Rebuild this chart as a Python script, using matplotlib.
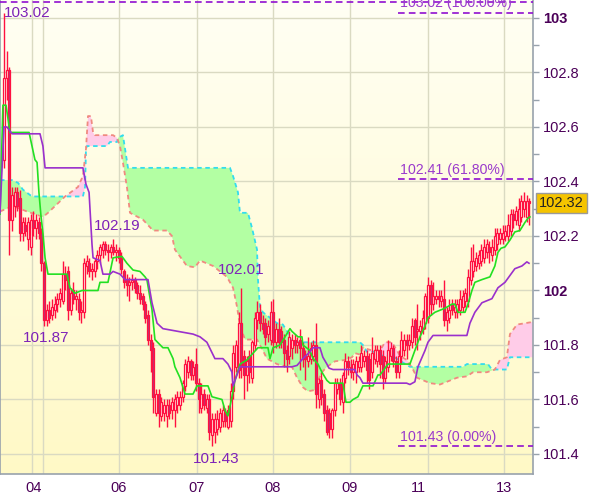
import numpy as np
import matplotlib
matplotlib.use("Agg")
import matplotlib.pyplot as plt
from matplotlib.colors import LinearSegmentedColormap
from matplotlib.transforms import blended_transform_factory

plt.rcParams['font.family'] = ['Liberation Sans', 'DejaVu Sans']

# ---------------- data ----------------
opens = [102.48,102.78,102.81,102.26,102.31,102.36,102.34,102.21,102.24,102.19,
         102.16,102.26,102.23,102.25,102.21,102.10,101.89,101.93,101.91,101.93,
         101.95,101.97,101.96,102.06,102.07,101.93,102.00,101.97,101.97,101.92,
         101.92,102.09,102.10,102.07,102.07,102.11,102.13,102.15,102.17,102.15,
         102.14,102.16,102.14,102.15,102.12,102.07,102.04,102.02,102.03,102.04,
         102.02,101.99,101.98,101.95,101.91,101.82,101.79,101.55,101.62,101.54,
         101.55,101.54,101.58,101.56,101.56,101.58,101.58,101.61,101.65,101.70,
         101.74,101.69,101.73,101.66,101.57,101.62,101.57,101.60,101.47,101.48,
         101.49,101.50,101.52,101.55,101.50,101.52,101.63,101.72,101.71,101.88,
         101.76,101.69,101.76,101.68,101.80,101.89,101.92,101.88,101.88,101.84,
         101.82,101.92,101.81,101.86,101.85,101.82,101.78,101.76,101.79,101.82,
         101.80,101.82,101.79,101.76,101.74,101.75,101.76,101.80,101.60,101.67,
         101.62,101.56,101.55,101.49,101.56,101.64,101.66,101.59,101.68,101.74,
         101.72,101.70,101.70,101.72,101.72,101.74,101.76,101.75,101.70,101.75,
         101.74,101.78,101.76,101.68,101.72,101.76,101.79,101.74,101.70,101.76,
         101.78,101.82,101.80,101.81,101.89,101.85,101.85,101.86,101.88,101.90,
         102.02,101.95,101.97,101.98,101.96,101.97,101.89,101.90,101.95,101.92,
         101.92,101.93,101.94,101.96,101.96,102.04,102.07,102.09,102.10,102.11,
         102.12,102.14,102.16,102.13,102.15,102.17,102.19,102.19,102.20,102.20,
         102.22,102.28,102.26,102.24,102.27,102.30,102.27,102.33]
highs = [103.02,102.88,102.82,102.38,102.38,102.38,102.37,102.27,102.27,102.27,
         102.28,102.29,102.28,102.27,102.23,102.11,101.95,101.96,101.97,101.98,
         101.99,102.01,102.11,102.09,102.09,102.01,102.03,102.00,101.99,101.96,
         102.12,102.13,102.12,102.10,102.12,102.15,102.17,102.18,102.18,102.17,
         102.17,102.19,102.17,102.16,102.14,102.08,102.06,102.05,102.06,102.05,
         102.03,102.02,101.99,101.96,101.93,101.84,101.81,101.64,101.64,101.61,
         101.60,101.60,101.60,101.61,101.62,101.63,101.63,101.67,101.75,101.76,
         101.75,101.74,101.79,101.68,101.66,101.64,101.62,101.62,101.55,101.55,
         101.56,101.57,101.58,101.57,101.58,101.66,101.80,101.82,101.92,102.01,
         101.78,101.76,101.78,101.82,101.92,101.96,101.95,101.91,101.90,101.89,
         101.96,101.97,101.88,101.90,101.87,101.84,101.80,101.85,101.84,101.84,
         101.83,101.86,101.81,101.78,101.83,101.81,101.82,101.88,101.68,101.70,
         101.64,101.58,101.57,101.57,101.68,101.68,101.68,101.70,101.77,101.76,
         101.75,101.75,101.76,101.76,101.80,101.78,101.78,101.77,101.83,101.80,
         101.80,101.80,101.78,101.76,101.82,101.81,101.80,101.76,101.78,101.85,
         101.84,101.84,101.84,101.90,101.90,101.95,101.89,101.93,101.99,102.05,
         102.04,102.03,102.00,102.00,102.00,102.04,101.94,101.97,101.97,101.97,
         101.97,102.00,102.00,102.01,102.08,102.16,102.17,102.14,102.15,102.17,
         102.19,102.19,102.18,102.19,102.23,102.23,102.23,102.24,102.24,102.28,
         102.30,102.30,102.31,102.34,102.35,102.36,102.35,102.34]
lows = [102.45,102.70,102.13,102.22,102.27,102.29,102.18,102.18,102.20,102.15,
        102.13,102.20,102.19,102.19,102.07,101.87,101.87,101.88,101.89,101.90,
        101.92,101.94,101.95,102.00,101.89,101.91,101.95,101.93,101.89,101.88,
        101.90,102.06,102.05,102.04,102.05,102.08,102.10,102.12,102.13,102.11,
        102.12,102.13,102.11,102.10,102.06,102.01,101.98,101.96,102.00,101.99,
        101.97,101.95,101.93,101.88,101.80,101.70,101.55,101.54,101.50,101.52,
        101.52,101.50,101.53,101.53,101.50,101.55,101.56,101.59,101.63,101.68,
        101.67,101.67,101.63,101.55,101.55,101.56,101.55,101.45,101.43,101.44,
        101.47,101.48,101.50,101.50,101.49,101.50,101.60,101.70,101.68,101.68,
        101.60,101.63,101.66,101.66,101.78,101.86,101.85,101.84,101.80,101.81,
        101.80,101.77,101.79,101.79,101.79,101.72,101.70,101.73,101.75,101.77,
        101.77,101.71,101.72,101.67,101.72,101.73,101.74,101.57,101.57,101.58,
        101.52,101.47,101.46,101.46,101.54,101.62,101.58,101.55,101.66,101.69,
        101.68,101.67,101.66,101.70,101.70,101.72,101.66,101.64,101.68,101.73,
        101.72,101.68,101.64,101.66,101.70,101.74,101.72,101.68,101.68,101.73,
        101.76,101.75,101.78,101.79,101.80,101.78,101.82,101.84,101.86,101.88,
        101.91,101.93,101.95,101.94,101.94,101.87,101.85,101.88,101.91,101.90,
        101.90,101.91,101.92,101.94,101.94,102.02,102.05,102.07,102.08,102.09,
        102.10,102.12,102.10,102.11,102.13,102.15,102.17,102.17,102.18,102.18,
        102.20,102.23,102.24,102.22,102.25,102.27,102.25,102.24]
closes = [102.78,102.81,102.26,102.35,102.36,102.31,102.21,102.25,102.22,102.25,
          102.26,102.23,102.26,102.21,102.10,101.89,101.93,101.90,101.94,101.95,
          101.97,101.99,102.06,102.04,101.93,101.99,101.97,101.98,101.92,101.93,
          102.10,102.11,102.07,102.08,102.11,102.13,102.16,102.17,102.15,102.14,
          102.16,102.14,102.15,102.12,102.08,102.03,102.02,102.03,102.04,102.01,
          101.99,101.97,101.95,101.90,101.82,101.78,101.61,101.62,101.55,101.59,
          101.58,101.58,101.55,101.59,101.60,101.61,101.61,101.66,101.73,101.74,
          101.69,101.72,101.66,101.60,101.62,101.58,101.60,101.48,101.53,101.53,
          101.53,101.55,101.56,101.52,101.56,101.63,101.77,101.80,101.88,101.72,
          101.69,101.74,101.70,101.81,101.90,101.92,101.88,101.86,101.83,101.87,
          101.92,101.81,101.86,101.81,101.81,101.77,101.75,101.83,101.82,101.80,
          101.81,101.79,101.75,101.75,101.76,101.79,101.80,101.62,101.66,101.61,
          101.55,101.48,101.49,101.56,101.66,101.66,101.60,101.69,101.74,101.72,
          101.70,101.73,101.74,101.74,101.77,101.76,101.71,101.67,101.77,101.78,
          101.78,101.73,101.68,101.74,101.78,101.79,101.74,101.70,101.76,101.82,
          101.82,101.80,101.82,101.87,101.83,101.86,101.87,101.90,101.98,102.02,
          101.95,101.98,101.98,101.97,101.98,101.89,101.92,101.93,101.93,101.94,
          101.95,101.97,101.98,101.99,102.05,102.11,102.11,102.12,102.13,102.15,
          102.16,102.17,102.14,102.16,102.20,102.21,102.21,102.21,102.22,102.24,
          102.28,102.26,102.29,102.30,102.33,102.33,102.33,102.32]

# Ichimoku lines: (bar position, price) vertices
tenkan_x = [-1.5,-0.4,0.75,2.25,9.4,10.5,11.6,12.4,13.1,13.9,14.6,15.4,16.5,23.6,24.75,26.6,29.25,
            35.25,36,39,40.9,44.25,46.1,48.4,51,52.9,53.6,55.5,56.6,59.6,61.5,63.4,64.1,66,67.9,
            70.9,72.4,76.5,78,81.75,82.9,84,85.5,86.6,88.5,91.1,93.4,95.25,99,99.75,100.9,103.5,
            105.4,107.25,108,110.25,111.75,112.1,114.75,115.9,117.75,119.25,121.1,122.25,127.1,
            128.25,129.75,130.9,132.75,134.6,138.4,140.25,141,142.9,144,152.25,154.1,156,157.9,
            159,161.6,165.4,168,169.1,170.25,172.9,174,175.5,176.6,179.25,182.25,184.1,185.25,
            186.4,187.9,189.75,191.6,193.5,195.4,196.5,197.25]
tenkan_y = [102.28,102.68,102.68,102.58,102.58,102.53,102.48,102.47,102.36,102.27,102.21,102.12,
            102.06,102.06,102.01,101.99,102.0,102.0,102.03,102.03,102.12,102.125,102.10,102.075,
            102.07,102.05,102.04,101.93,101.82,101.79,101.79,101.75,101.72,101.68,101.62,101.62,
            101.65,101.65,101.61,101.60,101.56,101.54,101.61,101.67,101.73,101.745,101.77,101.79,
            101.79,101.75,101.79,101.80,101.83,101.86,101.85,101.83,101.83,101.80,101.78,101.75,
            101.73,101.70,101.67,101.66,101.66,101.59,101.59,101.60,101.61,101.65,101.65,101.69,
            101.69,101.715,101.73,101.73,101.78,101.83,101.87,101.90,101.92,101.935,101.95,101.95,
            101.92,101.92,101.95,102.0,102.03,102.04,102.05,102.09,102.14,102.155,102.16,102.185,
            102.215,102.22,102.25,102.265,102.27]
kijun_x = [-1.5,0,1.1,3,13.5,14.6,15.4,29.6,30.75,31.9,33,33.4,36,37.1,39.75,40.9,43.5,45.4,54,
           55.5,57.4,59.6,70.9,73.5,76.1,79.1,82.1,84,85.5,85.9,88.5,108,109.9,112.1,114.75,115.9,
           118.5,119.6,121.1,121.9,123.4,131.6,132.4,133.5,134.6,151,152.25,154.1,155.25,157.9,
           159,160.9,173.6,174.75,176.6,179.25,183,185.25,187.9,189.75,191.6,194.25,196.1,196.9]
kijun_y = [102.285,102.60,102.60,102.575,102.575,102.53,102.45,102.45,102.39,102.36,102.17,102.12,
           102.11,102.06,102.06,102.07,102.06,102.04,102.04,101.955,101.88,101.86,101.84,101.83,
           101.81,101.75,101.75,101.73,101.70,101.65,101.72,101.72,101.725,101.75,101.775,101.79,
           101.79,101.755,101.73,101.715,101.71,101.71,101.69,101.68,101.66,101.66,101.655,101.665,
           101.72,101.78,101.81,101.835,101.835,101.88,101.92,101.955,101.97,102.01,102.03,102.055,
           102.08,102.09,102.105,102.10]
spanA_x = [-1.5,3,5.25,7.1,10.5,29.6,30.4,30.75,31.1,38.6,39.75,42.4,42.75,44.6,46.5,84.75,85.9,
           87.75,88.5,91.5,93,94.9,95.25,96,97.1,102.4,104.6,106.5,108,133.5,134.6,136.1,139.1,
           142.1,145.5,152.25,172.1,173.6,181.5,183,188.6,189.75,198.5]
spanA_y = [102.405,102.405,102.395,102.37,102.345,102.345,102.38,102.52,102.53,102.53,102.545,
           102.545,102.56,102.57,102.45,102.45,102.42,102.36,102.285,102.285,102.23,102.15,102.04,
           101.94,101.92,101.88,101.875,101.845,101.81,101.81,101.80,101.775,101.775,101.76,101.76,
           101.72,101.72,101.73,101.73,101.71,101.71,101.755,101.755]
spanB_x = [-1.5,3.4,8.6,14.6,16.5,22.9,27.75,29.6,30.75,31.5,32.6,33.4,34.1,40.9,42.4,43.5,44.6,
           46.1,47.25,52.1,55.9,61.1,63,64.1,68.6,71.6,73.5,78.4,83.6,85.9,87.4,88.5,90.4,94.9,
           97.1,98.6,102.4,106.1,108,109.9,112.1,114,116.6,117.75,119.25,121.1,124.1,127.9,130.5,
           131.6,133.5,134.6,138,141,142.9,145.5,147.4,148.5,151.1,153.4,154.9,159.75,163.5,166.1,
           169.9,173.6,175.9,181.1,184.1,186,188.6,189.75,192.4,198.5]
spanB_y = [102.29,102.31,102.29,102.27,102.285,102.345,102.38,102.42,102.52,102.64,102.64,102.58,
           102.57,102.57,102.56,102.53,102.47,102.38,102.285,102.26,102.22,102.22,102.20,102.15,
           102.09,102.085,102.11,102.09,102.05,102.01,101.94,101.87,101.82,101.82,101.78,101.75,
           101.73,101.72,101.72,101.68,101.645,101.63,101.635,101.67,101.70,101.72,101.74,101.745,
           101.755,101.77,101.765,101.79,101.78,101.78,101.81,101.81,101.78,101.76,101.745,101.71,
           101.68,101.66,101.655,101.665,101.68,101.685,101.70,101.70,101.71,101.745,101.755,101.84,
           101.875,101.885]

xtick_pos = [10.9, 43.1, 72.4, 100.9, 129.7, 155.25, 187.5]
xtick_labels = ['04', '06', '07', '08', '09', '11', '13']
vgrid_pos = [10.5, 14.6, 43.1, 72.4, 100.9, 129.7, 159, 187.5]

fib_levels = [103.02, 102.41, 101.43]
fib_labels = ['103.02 (100.00%)', '102.41 (61.80%)', '101.43 (0.00%)']
top_line = 103.059

point_labels = ['103.02', '102.19', '101.87', '102.01', '101.43']
point_x = [0.0, 33.75, 7.1, 80.25, 70.9]
point_y = [103.017, 102.237, 101.826, 102.077, 101.38]

last_price = 102.32

# ---------------- figure ----------------
fig = plt.figure(figsize=(6.0, 4.97), dpi=100)
fig.patch.set_facecolor('white')
ax = fig.add_axes([0.0, 23/497, 533/600, 474/497])
X0, X1 = -1.5, 198.4
Y0, Y1 = 101.3266, 103.066
ax.set_xlim(X0, X1)
ax.set_ylim(Y0, Y1)

cmap = LinearSegmentedColormap.from_list('bg', ['#FFF9C6', '#FFFFF4'])
ax.imshow(np.linspace(0, 1, 256).reshape(-1, 1), extent=[X0, X1, Y0, Y1],
          aspect='auto', origin='lower', cmap=cmap, zorder=0)

gridc = '#DADAC2'
for v in np.arange(101.4, 103.01, 0.2):
    ax.axhline(v, color=gridc, lw=1.0, zorder=0.5)
for v in vgrid_pos:
    ax.axvline(v, color=gridc, lw=1.0, zorder=0.5)

# cloud
grid = np.union1d(np.union1d(spanA_x, spanB_x), np.linspace(X0, 198.5, 800))
a = np.interp(grid, spanA_x, spanA_y)
b = np.interp(grid, spanB_x, spanB_y)
ax.fill_between(grid, a, b, where=a >= b, interpolate=True, color='#B3FFA3', lw=0, zorder=1)
ax.fill_between(grid, a, b, where=a < b, interpolate=True, color='#FFCCE8', lw=0, zorder=1)
ax.plot(spanA_x, spanA_y, color='#33DDEE', lw=1.3, ls=(0, (2.5, 2)), zorder=2)
ax.plot(spanB_x, spanB_y, color='#F08A80', lw=1.3, ls=(0, (2.5, 2)), zorder=2)

# candles
xs = np.arange(len(closes))
o = np.array(opens); c = np.array(closes); h = np.array(highs); l = np.array(lows)
red = '#FF1040'
ax.vlines(xs, l, h, color=red, lw=1.0, zorder=3)
up = c >= o
bot = np.minimum(o, c)
hgt = np.maximum(np.abs(c - o), 0.004)
ax.bar(xs[up], hgt[up], bottom=bot[up], width=0.8, color='#FFFFF2', edgecolor=red,
       linewidth=0.9, zorder=3.5)
ax.bar(xs[~up], hgt[~up], bottom=bot[~up], width=0.8, color='#B2377A', edgecolor=red,
       linewidth=0.9, zorder=3.5)

# tenkan / kijun
ax.plot(tenkan_x, tenkan_y, color='#22E022', lw=1.2, zorder=4)
ax.plot(kijun_x, kijun_y, color='#9A30CC', lw=1.2, zorder=4)

# fibonacci lines
fibc = '#9010D0'
ax.axhline(top_line, color=fibc, lw=1.2, ls=(0, (4, 2.5)), zorder=5)
for lv, lab in zip(fib_levels, fib_labels):
    ax.plot([147.75, X1], [lv, lv], color=fibc, lw=1.2, ls=(0, (4, 2.5)), zorder=5)
    ax.text(148.5, lv + 0.008, lab, color='#9A3ACC', fontsize=10.2, ha='left',
            va='bottom', zorder=6)

for lab, px, py in zip(point_labels, point_x, point_y):
    ax.text(px, py, lab, color='#7E22B8', fontsize=11.0, ha='left', va='center', zorder=6)

# axes styling
for s in ['left', 'right', 'bottom']:
    ax.spines[s].set_color('#98A2AC')
    ax.spines[s].set_linewidth(1.2)
ax.spines['top'].set_visible(False)

ax.yaxis.tick_right()
ax.set_yticks(np.round(np.arange(101.4, 103.01, 0.2), 1))
ax.set_yticks(np.round(np.arange(101.5, 103.0, 0.2), 1), minor=True)
ylabs = ['101.4', '101.6', '101.8', '102', '102.2', '102.4', '102.6', '102.8', '103']
ax.set_yticklabels(ylabs)
ax.tick_params(axis='y', which='both', direction='out', length=4, width=1,
               color='#98A2AC', labelsize=10.5, labelcolor='#4B0058', pad=3)
for t in ax.get_yticklabels():
    if t.get_text() in ('102', '103'):
        t.set_fontweight('bold')

ax.set_xticks(xtick_pos)
ax.set_xticklabels(xtick_labels)
ax.tick_params(axis='x', length=0, labelsize=10.5, labelcolor='#4B0058', pad=5)

trans = blended_transform_factory(ax.transAxes, ax.transData)
ax.text(1.0535, last_price, f'{last_price:.2f}', transform=trans, ha='center', va='center',
        fontsize=10.5, color='#222222', zorder=7, clip_on=False,
        bbox=dict(boxstyle='square,pad=0.2', fc='#F5C400', ec='#9A9A9A', lw=1))

fig.savefig('out.png', dpi=100)
